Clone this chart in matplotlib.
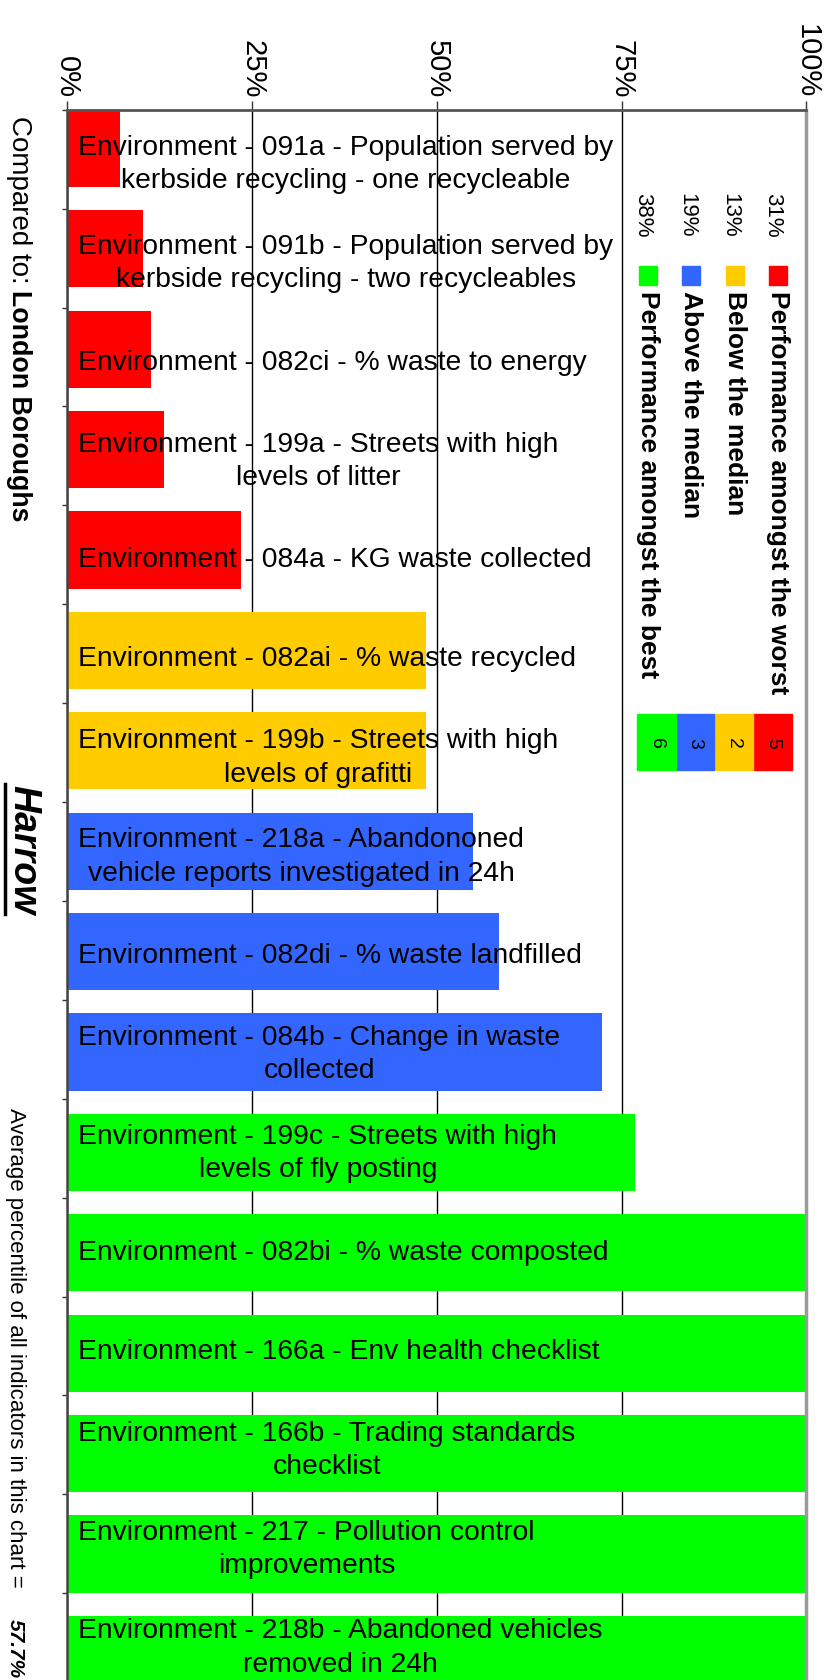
import numpy as np
import matplotlib
matplotlib.use('Agg')
import matplotlib.pyplot as plt
from matplotlib.patches import Rectangle
from matplotlib.lines import Line2D

plt.rcParams['font.family'] = ['Liberation Sans', 'DejaVu Sans']

# =============================
# DATOS
# =============================
labels = [
    "Environment - 091a - Population served by\nkerbside recycling - one recycleable",
    "Environment - 091b - Population served by\nkerbside recycling - two recycleables",
    "Environment - 082ci - % waste to energy",
    "Environment - 199a - Streets with high\nlevels of litter",
    "Environment - 084a - KG waste collected",
    "Environment - 082ai - % waste recycled",
    "Environment - 199b - Streets with high\nlevels of grafitti",
    "Environment - 218a - Abandononed\nvehicle reports investigated in 24h",
    "Environment - 082di - % waste landfilled",
    "Environment - 084b - Change in waste\ncollected",
    "Environment - 199c - Streets with high\nlevels of fly posting",
    "Environment - 082bi - % waste composted",
    "Environment - 166a - Env health checklist",
    "Environment - 166b - Trading standards\nchecklist",
    "Environment - 217 - Pollution control\nimprovements",
    "Environment - 218b - Abandoned vehicles\nremoved in 24h",
]
values = [7.1, 10.2, 11.3, 13.1, 23.5, 48.5, 48.5, 54.9, 58.4, 72.4, 76.8,
          100, 100, 100, 100, 100]
groups = ["worst"] * 5 + ["below"] * 2 + ["above"] * 3 + ["best"] * 6

group_keys = ["worst", "below", "above", "best"]
group_names = ["Performance amongst the worst", "Below the median",
               "Above the median", "Performance amongst the best"]
group_colors = {"worst": "#FF0000", "below": "#FFCC00",
                "above": "#3366FF", "best": "#00FF00"}

x_ticks = [0, 25, 50, 75, 100]
x_tick_labels = ["0%", "25%", "50%", "75%", "100%"]

area_name = "Harrow"
compared_to = "London Boroughs"
average_text = "57.7%"

# =============================
# FIGURA
# =============================
W, H = 828, 1681
fig = plt.figure(figsize=(W / 100, H / 100), dpi=100)


def fx(x):
    return x / W


def fy(y):
    return 1 - y / H


BAR_PX = 100.4
TICK_PX = 98.9
TOP = 110.7
LEFT, RIGHT = 67.3, 806.3

ax = fig.add_axes([fx(LEFT), 0, (RIGHT - LEFT) / W, 1 - TOP / H])
n = len(values)
colors = [group_colors[g] for g in groups]
ax.barh(np.arange(n), values, height=0.77, align='edge', color=colors, zorder=2)
ax.set_xlim(0, 100)
ax.set_ylim((H - TOP) / BAR_PX, 0)

ax.xaxis.tick_top()
ax.set_xticks(x_ticks)
ax.set_xticklabels(x_tick_labels)
ax.tick_params(axis='x', length=6.5, pad=2.5, labelsize=21, labelrotation=-90,
               color='#333333', width=1)
ax.set_yticks(np.arange(n) * TICK_PX / BAR_PX)
ax.set_yticklabels([])
ax.tick_params(axis='y', length=3.6, color='#333333', width=1)
ax.grid(axis='x', color='black', lw=1)
ax.set_axisbelow(True)

ax.spines['bottom'].set_visible(False)
ax.spines['top'].set_color('#555555')
ax.spines['top'].set_linewidth(2)
ax.spines['left'].set_color('#444444')
ax.spines['left'].set_linewidth(1.8)
ax.spines['right'].set_color('#999999')
ax.spines['right'].set_linewidth(2.5)

for i, lab in enumerate(labels):
    ax.text(1.5, (i * TICK_PX + 54) / BAR_PX, lab, ha='left', va='center',
            multialignment='center', fontsize=20.3, linespacing=1.37, zorder=3)

# =============================
# LEYENDA
# =============================
counts = [groups.count(k) for k in group_keys]
for i, k in enumerate(group_keys):
    col = 778 - 43.3 * i
    pct = "%d%%" % int(100.0 * counts[i] / n + 0.5)
    fig.text(fx(col - 5), fy(193), pct, rotation=-90, ha='center', va='top',
             fontsize=16)
    fig.add_artist(Rectangle((fx(col - 9), fy(286)), 18 / W, 19 / H,
                             transform=fig.transFigure, color=group_colors[k]))
    fig.text(fx(col), fy(291), group_names[i], rotation=-90, ha='center',
             va='top', fontsize=19, fontweight='bold')

box_w = (792 - 637) / 4
for i, k in enumerate(group_keys):
    x0 = 792 - box_w * (i + 1)
    fig.add_artist(Rectangle((fx(x0), fy(771)), box_w / W, 56 / H,
                             transform=fig.transFigure, color=group_colors[k]))
    fig.text(fx(x0 + box_w / 2), fy(743), str(counts[i]), rotation=-90,
             ha='center', va='center', fontsize=14)

# =============================
# TEXTOS LATERALES
# =============================
fig.text(fx(19), fy(116), "Compared to:", rotation=-90, ha='center', va='top',
         fontsize=20)
fig.text(fx(19), fy(290), compared_to, rotation=-90, ha='center', va='top',
         fontsize=19.3, fontweight='bold')
t_area = fig.text(fx(23), fy(850), area_name, rotation=-90, ha='center',
                  va='center', fontsize=27, fontweight='bold', fontstyle='italic')
fig.text(fx(15), fy(1108), "Average percentile of all indicators in this chart =",
         rotation=-90, ha='center', va='top', fontsize=16)
fig.text(fx(15), fy(1678), average_text, rotation=-90, ha='center', va='bottom',
         fontsize=15, fontweight='bold', fontstyle='italic')

fig.canvas.draw()
bb = t_area.get_window_extent()
fig.add_artist(Line2D([fx(5), fx(5)], [bb.y0 / H, bb.y1 / H],
                      transform=fig.transFigure, color='black', lw=2.5))

fig.savefig("out.png", dpi=100)
